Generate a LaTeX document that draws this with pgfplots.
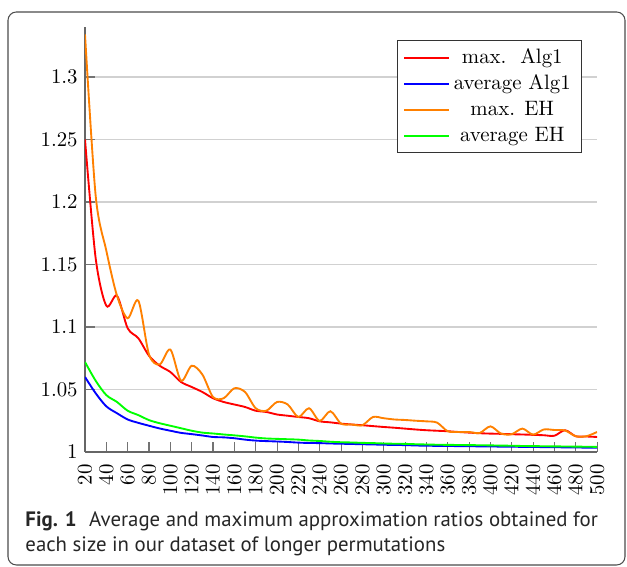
\documentclass[border=0pt]{standalone}
\usepackage{fontspec}
\setsansfont{PT Sans}
\usepackage{pgfplots}
\usepackage{pgfplotstable}
\pgfplotsset{compat=1.18}

\definecolor{ehorange}{RGB}{255,128,0}

% x: size, y: ratio
\pgfplotstableread{
x y
20 1.250
30 1.155
40 1.117
50 1.125
60 1.099
70 1.091
80 1.077
90 1.069
100 1.064
110 1.056
120 1.052
130 1.048
140 1.043
150 1.040
160 1.038
170 1.036
180 1.033
190 1.032
200 1.030
210 1.029
220 1.028
230 1.027
240 1.0245
250 1.0237
260 1.0227
270 1.022
280 1.0214
290 1.0207
300 1.020
310 1.0194
320 1.0187
330 1.018
340 1.0174
350 1.017
360 1.0166
370 1.016
380 1.0155
390 1.015
400 1.0147
410 1.0145
420 1.0142
430 1.014
440 1.0137
450 1.0134
460 1.013
470 1.0174
480 1.0126
490 1.0124
500 1.012
}\maxalg

\pgfplotstableread{
x y
20 1.060
30 1.047
40 1.0365
50 1.031
60 1.026
70 1.0233
80 1.021
90 1.0188
100 1.017
110 1.0153
120 1.0143
130 1.0132
140 1.012
150 1.0117
160 1.011
170 1.0099
180 1.0091
190 1.0087
200 1.0084
210 1.008
220 1.0075
230 1.0072
240 1.0071
250 1.0068
260 1.0066
270 1.0064
280 1.0062
290 1.006
300 1.0058
310 1.0056
320 1.0055
330 1.0052
340 1.005
350 1.0049
360 1.0048
370 1.0047
380 1.0046
390 1.0045
400 1.0044
410 1.0043
420 1.0042
430 1.0041
440 1.004
450 1.0039
460 1.0038
470 1.0037
480 1.0036
490 1.0035
500 1.0035
}\avgalg

\pgfplotstableread{
x y
20 1.334
30 1.205
40 1.161
50 1.125
60 1.107
70 1.121
80 1.078
90 1.070
100 1.082
110 1.057
120 1.069
130 1.062
140 1.044
150 1.043
160 1.051
170 1.048
180 1.035
190 1.033
200 1.040
210 1.038
220 1.028
230 1.035
240 1.0248
250 1.0326
260 1.0227
270 1.022
280 1.0214
290 1.028
300 1.027
310 1.026
320 1.0256
330 1.025
340 1.0245
350 1.0235
360 1.0166
370 1.016
380 1.016
390 1.0152
400 1.0205
410 1.0147
420 1.0142
430 1.0187
440 1.0139
450 1.018
460 1.0176
470 1.0172
480 1.0126
490 1.0126
500 1.016
}\maxeh

\pgfplotstableread{
x y
20 1.072
30 1.057
40 1.0455
50 1.040
60 1.033
70 1.0295
80 1.0255
90 1.023
100 1.021
110 1.019
120 1.017
130 1.0155
140 1.0148
150 1.014
160 1.0133
170 1.0125
180 1.0115
190 1.0108
200 1.0105
210 1.0102
220 1.0099
230 1.0092
240 1.0088
250 1.0082
260 1.0078
270 1.0076
280 1.0073
290 1.0071
300 1.0068
310 1.0066
320 1.0065
330 1.0062
340 1.006
350 1.0058
360 1.0057
370 1.0056
380 1.0055
390 1.0054
400 1.0053
410 1.0051
420 1.005
430 1.0048
440 1.0047
450 1.0046
460 1.0045
470 1.0044
480 1.0043
490 1.0042
500 1.0041
}\avgeh

\begin{document}
\begin{tikzpicture}
\useasboundingbox (0,0) rectangle (300.96pt,272.16pt);
\draw[black!70, line width=0.5pt, rounded corners=4pt] (3.84pt,0.96pt) rectangle (300pt,266.4pt);

\begin{axis}[
    at={(40.8pt,55.2pt)}, anchor=south west,
    scale only axis,
    width=245.8pt, height=204pt,
    xmin=20, xmax=500,
    ymin=1, ymax=1.34,
    axis lines*=left,
    axis line style={black!60, line width=0.6pt},
    xtick={20,40,...,500},
    ytick={1,1.05,1.1,1.15,1.2,1.25,1.3},
    tick align=inside,
    tick style={black!55, line width=0.5pt},
    major tick length=4.8pt,
    xticklabel style={rotate=90, anchor=east},
    xticklabel shift=2.5pt,
    ymajorgrids,
    grid style={black!18, line width=0.5pt},
    legend pos=north east,
    legend cell align=center,
    legend style={draw=black!80, line width=0.5pt},
    legend image code/.code={\draw[#1] (0cm,0cm) -- (0.75cm,0cm);},
    every axis plot/.append style={line width=0.9pt, smooth},
]
\addplot[red] table {\maxalg};
\addlegendentry{max.\ \ Alg1}
\addplot[blue] table {\avgalg};
\addlegendentry{average Alg1}
\addplot[ehorange] table {\maxeh};
\addlegendentry{max. EH}
\addplot[green] table {\avgeh};
\addlegendentry{average EH}
\end{axis}

\node[anchor=base west, inner sep=0pt, font=\sffamily\fontsize{10}{12}\selectfont, text=black!85]
  at (12pt,19.2pt) {\textbf{Fig. 1}\hspace{0.6em}Average and maximum approximation ratios obtained for};
\node[anchor=base west, inner sep=0pt, font=\sffamily\fontsize{10}{12}\selectfont, text=black!85]
  at (12pt,7.3pt) {each size in our dataset of longer permutations};
\end{tikzpicture}
\end{document}
